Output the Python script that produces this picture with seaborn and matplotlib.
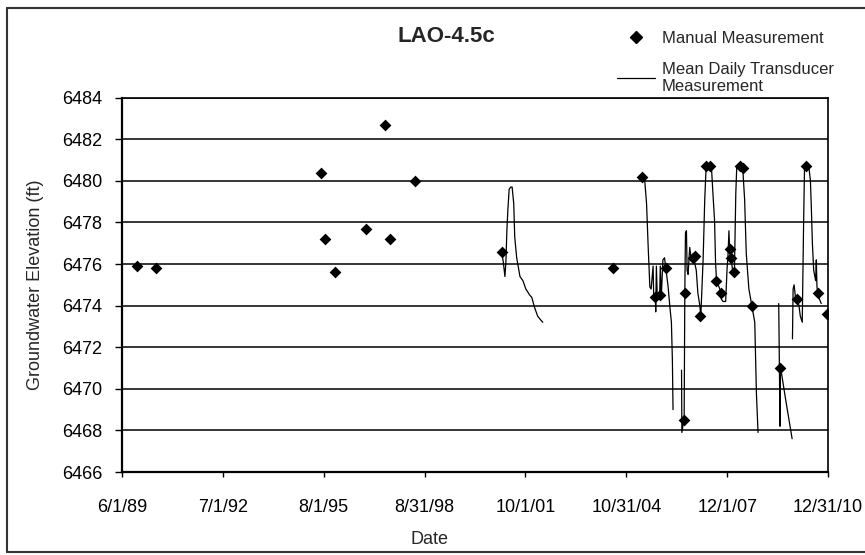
import numpy as np
import pandas as pd
import matplotlib
matplotlib.use('Agg')
import matplotlib.pyplot as plt
import matplotlib.dates as mdates
from matplotlib.lines import Line2D
import seaborn as sns

# Manual measurements (decimal year, elevation ft)
manual_year = [1989.88, 1990.46, 1995.49, 1995.61, 1995.93, 1996.87, 1997.46, 1997.60,
               1998.37, 2001.02, 2004.43, 2005.32, 2005.71, 2005.85, 2006.04, 2006.60,
               2006.62, 2006.87, 2006.94, 2007.10, 2007.27, 2007.38, 2007.58, 2007.74,
               2008.00, 2008.02, 2008.14, 2008.30, 2008.40, 2008.67, 2009.54, 2010.05,
               2010.33, 2010.69, 2010.98]
manual_elev = [6475.9, 6475.8, 6480.4, 6477.2, 6475.6, 6477.7, 6482.7, 6477.2,
               6480.0, 6476.6, 6475.8, 6480.2, 6474.4, 6474.5, 6475.8, 6468.5,
               6474.6, 6476.3, 6476.4, 6473.5, 6480.7, 6480.7, 6475.2, 6474.6,
               6476.7, 6476.3, 6475.6, 6480.7, 6480.6, 6474.0, 6471.0, 6474.3,
               6480.7, 6474.6, 6473.6]

# Mean daily transducer record, broken into the pieces shown on the chart
seg_2001_year = [2001.02, 2001.07, 2001.12, 2001.15, 2001.18, 2001.21, 2001.25, 2001.30,
                 2001.34, 2001.39, 2001.42, 2001.48, 2001.58, 2001.67, 2001.76, 2001.88,
                 2001.94, 2002.03, 2002.12, 2002.22, 2002.28]
seg_2001_elev = [6476.6, 6476.1, 6475.4, 6476.1, 6477.6, 6478.6, 6479.6, 6479.7,
                 6479.7, 6478.9, 6477.3, 6476.3, 6475.4, 6475.2, 6474.8, 6474.5,
                 6474.4, 6473.9, 6473.5, 6473.3, 6473.2]

seg_2005_year = [2005.32, 2005.39, 2005.45, 2005.50, 2005.53, 2005.55, 2005.59, 2005.65,
                 2005.67, 2005.72, 2005.73, 2005.75, 2005.78, 2005.85, 2005.87, 2005.90,
                 2005.95, 2006.00, 2006.04, 2006.11, 2006.16, 2006.21, 2006.24, 2006.26]
seg_2005_elev = [6480.2, 6480.1, 6478.9, 6476.8, 6475.7, 6474.9, 6474.8, 6475.9,
                 6474.3, 6474.4, 6473.7, 6475.9, 6474.3, 6474.5, 6475.9, 6474.4,
                 6476.2, 6476.3, 6475.8, 6474.9, 6474.0, 6473.2, 6471.4, 6469.0]

seg_2006_year = [2006.52, 2006.53, 2006.60, 2006.62, 2006.64, 2006.67, 2006.69, 2006.72,
                 2006.77, 2006.82, 2006.89, 2006.97, 2007.02, 2007.08, 2007.11, 2007.18,
                 2007.23, 2007.27, 2007.43, 2007.48, 2007.53, 2007.56, 2007.59, 2007.69,
                 2007.74, 2007.79, 2007.87, 2007.91, 2007.94, 2007.97, 2007.99, 2008.04,
                 2008.09, 2008.14, 2008.18, 2008.21, 2008.35, 2008.40, 2008.45, 2008.50,
                 2008.58, 2008.67, 2008.76, 2008.81, 2008.86]
seg_2006_elev = [6470.9, 6467.9, 6468.6, 6474.6, 6477.5, 6477.6, 6475.7, 6475.5,
                 6476.8, 6476.2, 6476.3, 6475.7, 6474.6, 6474.0, 6473.5, 6476.2,
                 6479.1, 6480.6, 6480.8, 6479.4, 6478.1, 6476.1, 6475.2, 6474.8,
                 6474.3, 6474.2, 6474.2, 6475.7, 6476.4, 6477.6, 6476.7, 6476.2,
                 6475.6, 6475.8, 6479.4, 6480.7, 6480.7, 6480.4, 6479.1, 6476.5,
                 6474.8, 6474.0, 6473.2, 6469.8, 6467.9]

seg_2009_year = [2009.49, 2009.53, 2009.54, 2009.70, 2009.90]
seg_2009_elev = [6474.1, 6468.2, 6471.1, 6469.5, 6467.6]

seg_2010_year = [2009.91, 2009.93, 2009.96, 2010.01, 2010.05, 2010.11, 2010.15, 2010.21,
                 2010.25, 2010.28, 2010.41, 2010.46, 2010.49, 2010.52, 2010.56, 2010.62,
                 2010.64, 2010.66, 2010.69, 2010.74, 2010.79]
seg_2010_elev = [6472.4, 6474.8, 6475.0, 6474.3, 6474.3, 6474.0, 6473.5, 6473.2,
                 6477.8, 6480.7, 6480.7, 6480.0, 6478.6, 6477.0, 6475.7, 6475.2,
                 6476.2, 6474.9, 6474.6, 6474.3, 6474.1]

tick_dates = ['1989-06-01', '1992-07-01', '1995-08-01', '1998-08-31',
              '2001-10-01', '2004-10-31', '2007-12-01', '2010-12-31']
tick_labels = ['6/1/89', '7/1/92', '8/1/95', '8/31/98',
               '10/1/01', '10/31/04', '12/1/07', '12/31/10']


def to_date(y):
    yr = int(y)
    return pd.Timestamp(yr, 1, 1) + pd.Timedelta(days=(y - yr) * 365.25)


manual = pd.DataFrame({'Date': [to_date(y) for y in manual_year],
                       'Elevation': manual_elev})

segments = [(seg_2001_year, seg_2001_elev), (seg_2005_year, seg_2005_elev),
            (seg_2006_year, seg_2006_elev), (seg_2009_year, seg_2009_elev),
            (seg_2010_year, seg_2010_elev)]
parts = []
for i, (yrs, elev) in enumerate(segments):
    parts.append(pd.DataFrame({'Date': [to_date(y) for y in yrs],
                               'Elevation': elev, 'Segment': i}))
trans = pd.concat(parts, ignore_index=True)

sns.set_style('white')
plt.rcParams['font.family'] = ['Liberation Sans', 'DejaVu Sans']

fig = plt.figure(figsize=(8.65, 5.55), dpi=100)
ax = fig.add_axes([0.141, 0.1495, 0.8162, 0.6746])

sns.lineplot(data=trans, x='Date', y='Elevation', units='Segment', estimator=None,
             sort=False, color='black', lw=0.9, ax=ax, legend=False)
sns.scatterplot(data=manual, x='Date', y='Elevation', marker='D', s=36, color='black',
                edgecolor='black', linewidth=0, ax=ax, zorder=3, legend=False)

ax.set_ylim(6466, 6484)
ax.set_yticks(np.arange(6466, 6485, 2))
ax.yaxis.grid(True, color='black', lw=1.1)
ax.xaxis.grid(False)

tick_pos = [mdates.date2num(pd.Timestamp(d)) for d in tick_dates]
ax.set_xlim(tick_pos[0], tick_pos[-1])
ax.set_xticks(tick_pos)
ax.set_xticklabels(tick_labels)

ax.tick_params(axis='y', left=True, direction='out', length=5, width=1, pad=9,
               labelsize=13, colors='black')
ax.tick_params(axis='x', bottom=True, direction='out', length=3.6, width=1, pad=15.5,
               labelsize=13, colors='black')
for side in ['left', 'bottom', 'top', 'right']:
    ax.spines[side].set_color('black')
    ax.spines[side].set_linewidth(1.2)
ax.spines['left'].set_linewidth(1.6)
ax.spines['bottom'].set_linewidth(1.6)

ax.set_xlabel('Date', fontsize=13)
ax.xaxis.set_label_coords(0.436, -0.158)
ax.set_ylabel('Groundwater Elevation (ft)', fontsize=13)
ax.yaxis.set_label_coords(-0.111, 0.5)

fig.text(0.516, 0.935, 'LAO-4.5c', fontsize=16, fontweight='bold',
         ha='center', va='center')

handles = [Line2D([], [], marker='D', color='black', ls='none', ms=6),
           Line2D([], [], color='black', lw=0.9)]
fig.legend(handles, ['Manual Measurement', 'Mean Daily Transducer\nMeasurement'],
           loc='upper left', bbox_to_anchor=(617 / 865, 1 - 31 / 555), frameon=False,
           fontsize=12, handlelength=2.3, handletextpad=0.4, labelspacing=0.95,
           borderpad=0, borderaxespad=0)

# outer chart border (right side runs off the scan)
for xs, ys in [([7, 7], [8, 552]), ([7, 865], [8, 8]), ([7, 865], [552, 552])]:
    fig.add_artist(Line2D([x / 865 for x in xs], [1 - y / 555 for y in ys],
                          transform=fig.transFigure, color='#333333', lw=1.5))

fig.savefig('out.png', dpi=100)
